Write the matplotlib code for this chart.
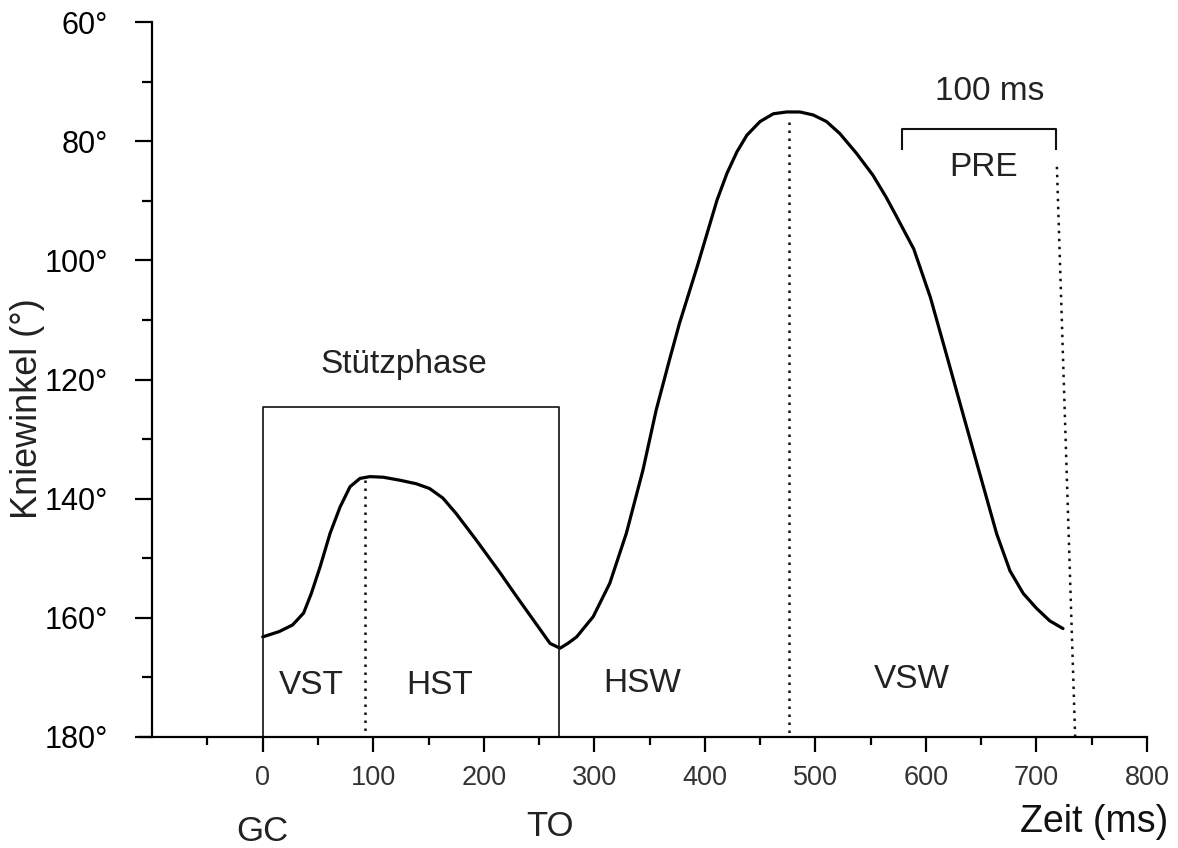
import matplotlib.pyplot as plt
import numpy as np

plt.rcParams['font.family'] = ['Liberation Sans', 'DejaVu Sans']

# knee angle over one gait cycle
zeit = [0, 15, 27, 37, 44, 52, 61, 70, 79, 88, 97, 109, 124, 139, 151, 163,
        175, 193, 215, 230, 245, 260, 269, 276, 284, 299, 314, 329, 344, 356,
        368, 377, 393, 411, 420, 429, 438, 450, 462, 474, 486, 498, 510, 522,
        537, 552, 564, 573, 589, 604, 619, 634, 649, 664, 676, 688, 700, 712,
        724]
winkel = [163.2, 162.3, 161.2, 159.2, 155.9, 151.4, 145.8, 141.4, 138.0, 136.6,
          136.3, 136.4, 136.9, 137.5, 138.3, 139.9, 142.5, 146.9, 152.5, 156.5,
          160.4, 164.3, 165.1, 164.3, 163.2, 159.8, 154.2, 145.8, 135.2, 125.1,
          116.7, 110.6, 101.1, 89.9, 85.4, 81.8, 79.0, 76.7, 75.4, 75.1, 75.1,
          75.6, 76.7, 78.7, 82.0, 85.7, 89.4, 92.5, 98.1, 106.2, 116.1, 126.1,
          136.0, 145.9, 152.1, 155.9, 158.4, 160.5, 161.8]

# phase boundaries
gc = 0
to = 268
stuetz_top = 124.6
grenzen_x0 = [93, 476, 718.5]   # dotted lines, top end
grenzen_x1 = [93, 476, 735]     # dotted lines, bottom end
grenzen_y0 = [136.9, 76.8, 84.3]
pre_x = [578, 718]
pre_y = 78
pre_tick = 81.3

phasen = ['VST', 'HST', 'HSW', 'VSW']
phasen_x = [44, 160, 343, 587]
phasen_y = [171.3, 171.3, 171.0, 170.4]

xticks = np.arange(0, 801, 100)
xminor = np.arange(-50, 751, 100)
yticks = np.arange(60, 181, 20)
yminor = np.arange(70, 171, 20)

fig = plt.figure(figsize=(11.78, 8.48), dpi=100)
ax = fig.add_axes([140/1178, 1-737/848, 1007/1178, 715/848])

ax.plot(zeit, winkel, color='black', lw=2.3, solid_capstyle='round', solid_joinstyle='round')

# Stützphase box
ax.plot([gc, gc, to, to], [180, stuetz_top, stuetz_top, 180], color='#111111', lw=1.2)
ax.text((gc + to) / 2 - 6, 117.4, 'Stützphase', ha='center', va='center', fontsize=24, color='#222222')

for x0, x1, y0 in zip(grenzen_x0, grenzen_x1, grenzen_y0):
    ax.plot([x0, x1], [y0, 180], color='#111111', lw=1.8, dashes=[1, 2.2])

# PRE bracket
ax.plot([pre_x[0], pre_x[0], pre_x[1], pre_x[1]], [pre_tick, pre_y, pre_y, pre_tick],
        color='#111111', lw=1.5)
ax.text(658, 71.6, '100 ms', ha='center', va='center', fontsize=24, color='#222222')
ax.text(652, 84.5, 'PRE', ha='center', va='center', fontsize=24, color='#222222')

for name, x, y in zip(phasen, phasen_x, phasen_y):
    ax.text(x, y, name, ha='center', va='center', fontsize=24, color='#222222')

ax.text(0, 195.8, 'GC', ha='center', va='center', fontsize=25, color='#222222', clip_on=False)
ax.text(260, 195.0, 'TO', ha='center', va='center', fontsize=25, color='#222222', clip_on=False)
ax.text(752, 194.3, 'Zeit (ms)', ha='center', va='center', fontsize=27, color='#111111', clip_on=False)

ax.set_xlim(-111, 800)
ax.set_ylim(180, 60)
ax.spines['top'].set_visible(False)
ax.spines['right'].set_visible(False)
ax.spines['left'].set_position(('data', -100))
for s in ['left', 'bottom']:
    ax.spines[s].set_linewidth(1.6)

ax.set_xticks(xticks)
ax.set_xticklabels([str(v) for v in xticks])
ax.set_xticks(xminor, minor=True)
ax.set_yticks(yticks)
ax.set_yticklabels([f'{v}°' for v in yticks])
ax.set_yticks(yminor, minor=True)

ax.tick_params(axis='x', which='major', direction='out', length=11, width=1.6,
               pad=9, labelsize=19.5, labelcolor='#333333')
ax.tick_params(axis='x', which='minor', direction='out', length=6, width=1.6)
ax.tick_params(axis='y', which='major', direction='out', length=12, width=1.6,
               pad=20, labelsize=22)
ax.tick_params(axis='y', which='minor', direction='out', length=7, width=1.6)

fig.text(28/1178, 1-409/848, 'Kniewinkel (°)', rotation=90, ha='center', va='center',
         fontsize=26, color='#222222')

fig.savefig('out.png', dpi=100)
